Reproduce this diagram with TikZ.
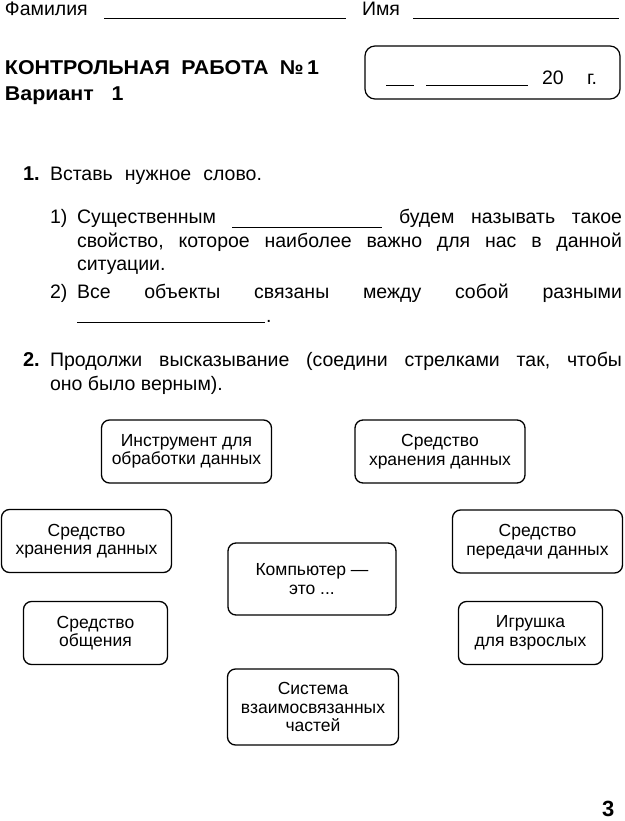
\documentclass[tikz,border=0pt]{standalone}
\usepackage{fontspec}
\setmainfont{Liberation Sans}
\newfontface\widebold[FakeStretch=1.07]{Liberation Sans Bold}
\begin{document}
\begin{tikzpicture}[x=1pt,y=-1pt]
\tikzstyle{every node}=[inner sep=0pt,outer sep=0pt]
\tikzstyle{txt}=[anchor=base west,font=\fontsize{19.5}{24}\selectfont]
\tikzstyle{boldtxt}=[anchor=base west,font=\fontsize{20}{24}\selectfont\bfseries]
\tikzstyle{headtxt}=[anchor=base west,font=\fontsize{20}{24}\widebold]
\tikzstyle{blank}=[line width=0.8pt]
\tikzstyle{box}=[draw,line width=1.3pt,rounded corners=8pt,align=center,
  font=\fontsize{17.5}{18.5}\selectfont]
\useasboundingbox (0,0) rectangle (624,821);
% header
\node[txt] (fam) at (5,16) {Фамилия};
\draw[blank] (104,18) -- (346,18);
\node[txt] (name) at (362,16) {Имя};
\draw[blank] (413,18) -- (619,18);
\node[headtxt] (title) at (5,75) {\hbox to 314pt{КОНТРОЛЬНАЯ\hfill РАБОТА\hfill №\,1}};
\node[headtxt] (var) at (5,101) {Вариант\ \ \ 1};
\draw[line width=1.2pt,rounded corners=10pt] (365,46) rectangle (620,99);
\draw[blank] (386,85) -- (414,85);
\draw[blank] (426,85) -- (528,85);
\node[txt] (year) at (542,85) {20};
\node[txt] (g) at (587,85) {г.};
% task 1
\node[boldtxt] (n1) at (23,180) {1.};
\node[txt] (t1) at (50,180) {\hbox to 212pt{Вставь\hfill нужное\hfill слово.}};
\node[txt] (a1) at (50,223) {1)};
\node[txt] (a1t) at (77,223) {Существенным};
\draw[blank] (232,227) -- (382,227);
\node[txt] (a1r) at (399,223) {\hbox to 223pt{будем\hfill называть\hfill такое}};
\node[txt] (a2) at (77,247) {\hbox to 545pt{свойство,\hfill которое\hfill наиболее\hfill важно\hfill для\hfill нас\hfill в\hfill данной}};
\node[txt] (a3) at (77,270) {ситуации.};
\node[txt] (b1) at (50,298) {2)};
\node[txt] (b1t) at (77,298) {\hbox to 545pt{Все\hfill объекты\hfill связаны\hfill между\hfill собой\hfill разными}};
\draw[blank] (77,322) -- (265,322);
\node[txt] (dot) at (266,322) {.};
% task 2
\node[boldtxt] (n2) at (23,366) {2.};
\node[txt] (t2) at (50,366) {\hbox to 572pt{Продолжи\hfill высказывание\hfill (соедини\hfill стрелками\hfill так,\hfill чтобы}};
\node[txt] (t2b) at (50,390) {оно было верным).};
% boxes
\node[box,minimum width=170pt,minimum height=63pt] (tool) at (186.5,451.5) {Инструмент для\\обработки данных};
\node[box,minimum width=170pt,minimum height=63pt] (storeR) at (440,451.5) {Средство\\хранения данных};
\node[box,minimum width=170pt,minimum height=63pt] (storeL) at (86.5,541) {Средство\\хранения данных};
\node[box,minimum width=170pt,minimum height=63pt] (trans) at (537.5,541.5) {Средство\\передачи данных};
\node[box,minimum width=168pt,minimum height=72pt] (comp) at (312,579) {Компьютер —\\это ...};
\node[box,minimum width=144pt,minimum height=63pt] (talk) at (95.5,633) {Средство\\общения};
\node[box,minimum width=144pt,minimum height=63pt] (toy) at (530.5,633) {Игрушка\\для взрослых};
\node[box,minimum width=171pt,minimum height=76pt] (sys) at (313,707) {Система\\взаимосвязанных\\частей};
% page number
\node[boldtxt,font=\fontsize{22}{26}\selectfont\bfseries] (page) at (602,816) {3};
\end{tikzpicture}
\end{document}
